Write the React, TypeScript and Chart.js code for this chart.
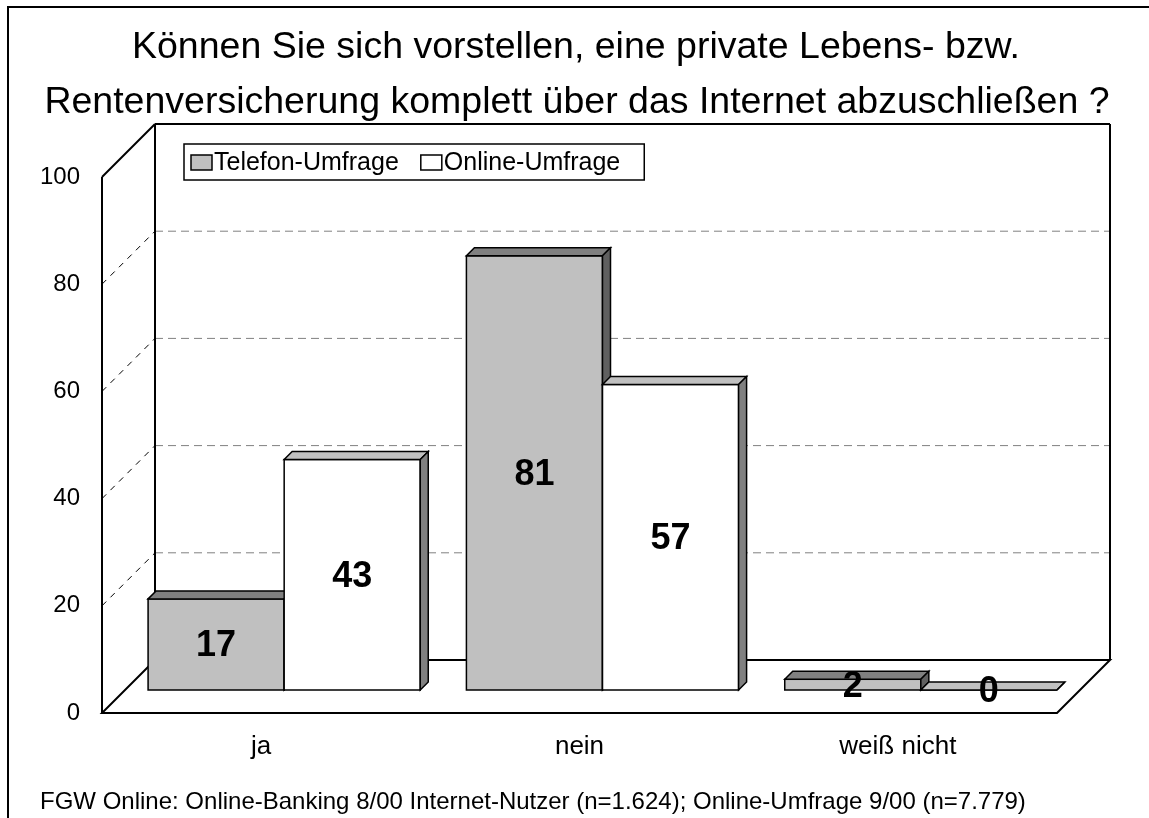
import React, { useEffect, useRef } from 'react';
import { Chart, registerables } from 'chart.js';

Chart.register(...registerables);

const categories = ['ja', 'nein', 'weiß nicht'];
const telefonValues = [17, 81, 2];
const onlineValues = [43, 57, 0];
const seriesNames = ['Telefon-Umfrage', 'Online-Umfrage'];
const yTickStep = 20;
const yMin = 0;
const yMax = 100;
const titleLines = [
  'Können Sie sich vorstellen, eine private Lebens- bzw.',
  'Rentenversicherung komplett über das Internet abzuschließen ?',
];
const footerText =
  'FGW Online: Online-Banking 8/00 Internet-Nutzer (n=1.624); Online-Umfrage 9/00 (n=7.779)';

const W = 1149;
const H = 818;
const FONT = '"Liberation Sans", Arial, Helvetica, sans-serif';
const DEPTH = 53; // depth of the 3D box
const BAR_OFF = 23; // depth position of the bar front face
const BAR_D = 8; // bar thickness in depth

const seriesStyles = [
  { front: '#c0c0c0', top: '#808080', side: '#606060' },
  { front: '#ffffff', top: '#c0c0c0', side: '#808080' },
];

function poly(ctx: CanvasRenderingContext2D, pts: number[][], fill?: string) {
  ctx.beginPath();
  ctx.moveTo(pts[0][0], pts[0][1]);
  for (let i = 1; i < pts.length; i++) ctx.lineTo(pts[i][0], pts[i][1]);
  ctx.closePath();
  if (fill) {
    ctx.fillStyle = fill;
    ctx.fill();
  }
  ctx.stroke();
}

function line(ctx: CanvasRenderingContext2D, x1: number, y1: number, x2: number, y2: number) {
  ctx.beginPath();
  ctx.moveTo(x1, y1);
  ctx.lineTo(x2, y2);
  ctx.stroke();
}

const threeDPlugin = {
  id: 'threeD',
  beforeDatasetsDraw(chart: any) {
    const { ctx, chartArea: a, scales } = chart;
    const y = scales.y;
    const L = a.left;
    const R = a.right;
    const B = y.getPixelForValue(yMin);
    const T = y.getPixelForValue(yMax);
    const D = DEPTH;
    ctx.save();
    ctx.lineWidth = 1;
    for (let v = yMin + yTickStep; v < yMax; v += yTickStep) {
      const py = y.getPixelForValue(v);
      ctx.setLineDash([8, 5]);
      ctx.strokeStyle = '#808080';
      line(ctx, L + D, py - D, R + D, py - D);
      ctx.setLineDash([6, 6]);
      ctx.strokeStyle = '#000';
      line(ctx, L, py, L + D, py - D);
    }
    ctx.setLineDash([]);
    ctx.lineWidth = 2;
    ctx.strokeStyle = '#000';
    ctx.lineJoin = 'miter';
    poly(ctx, [
      [L, B],
      [R, B],
      [R + D, B - D],
      [L + D, B - D],
    ]);
    line(ctx, L, B, L, T);
    line(ctx, L, T, L + D, T - D);
    line(ctx, L + D, T - D, L + D, B - D);
    line(ctx, L + D, T - D, R + D, T - D);
    line(ctx, R + D, T - D, R + D, B - D);
    ctx.restore();
  },
  beforeDatasetDraw(chart: any) {
    chart.ctx.save();
    chart.ctx.translate(BAR_OFF, -BAR_OFF);
  },
  afterDatasetDraw(chart: any) {
    chart.ctx.restore();
  },
  afterDatasetsDraw(chart: any) {
    const ctx: CanvasRenderingContext2D = chart.ctx;
    const d = BAR_D;
    ctx.save();
    ctx.translate(BAR_OFF, -BAR_OFF);
    ctx.lineWidth = 1.5;
    ctx.strokeStyle = '#000';
    ctx.lineJoin = 'miter';
    chart.data.datasets.forEach((ds: any, i: number) => {
      const meta = chart.getDatasetMeta(i);
      const st = seriesStyles[i];
      meta.data.forEach((el: any) => {
        const { x, y, base, width } = el.getProps(['x', 'y', 'base', 'width'], true);
        const l = x - width / 2;
        const r = x + width / 2;
        ctx.fillStyle = st.front;
        ctx.fillRect(l, y, r - l, base - y);
        ctx.strokeRect(l, y, r - l, base - y);
        poly(ctx, [
          [l, y],
          [l + d, y - d],
          [r + d, y - d],
          [r, y],
        ], st.top);
        poly(ctx, [
          [r, y],
          [r + d, y - d],
          [r + d, base - d],
          [r, base],
        ], st.side);
      });
    });
    ctx.fillStyle = '#000';
    ctx.font = 'bold 36px ' + FONT;
    ctx.textAlign = 'center';
    ctx.textBaseline = 'middle';
    chart.data.datasets.forEach((ds: any, i: number) => {
      const meta = chart.getDatasetMeta(i);
      meta.data.forEach((el: any, j: number) => {
        const { x, y, base } = el.getProps(['x', 'y', 'base'], true);
        ctx.fillText(String(ds.data[j]), x, (y + base) / 2 + 2);
      });
    });
    ctx.restore();
  },
  afterDraw(chart: any) {
    const ctx: CanvasRenderingContext2D = chart.ctx;
    ctx.save();
    // outer frame
    ctx.strokeStyle = '#000';
    ctx.lineWidth = 2;
    ctx.beginPath();
    ctx.moveTo(8, H);
    ctx.lineTo(8, 7);
    ctx.lineTo(W, 7);
    ctx.stroke();
    // title
    ctx.fillStyle = '#000';
    ctx.font = '37.5px ' + FONT;
    ctx.textAlign = 'center';
    ctx.textBaseline = 'alphabetic';
    ctx.fillText(titleLines[0], 576, 58);
    ctx.fillText(titleLines[1], 577, 113);
    // footer
    ctx.font = '24px ' + FONT;
    ctx.textAlign = 'left';
    ctx.fillText(footerText, 40, 809);
    // legend
    const lx = 184;
    const ly = 144;
    const lh = 36;
    ctx.font = '25px ' + FONT;
    ctx.textBaseline = 'middle';
    let cx = lx + 7;
    const items = chart.data.datasets.map((ds: any, i: number) => ({
      label: ds.label,
      color: seriesStyles[i].front,
    }));
    ctx.lineWidth = 1.5;
    items.forEach((it: any, i: number) => {
      ctx.fillStyle = it.color;
      ctx.fillRect(cx, ly + 11, 21, 15);
      ctx.strokeRect(cx, ly + 11, 21, 15);
      ctx.fillStyle = '#000';
      ctx.fillText(it.label, cx + 23, ly + lh / 2 + 1);
      const tw = ctx.measureText(it.label).width;
      cx += 23 + tw + (i < items.length - 1 ? 22 : 24);
    });
    ctx.strokeRect(lx, ly, cx - lx, lh);
    ctx.restore();
  },
};

export default function App() {
  const ref = useRef<HTMLCanvasElement | null>(null);
  useEffect(() => {
    if (!ref.current) return;
    const chart = new Chart(ref.current, {
      type: 'bar',
      data: {
        labels: categories,
        datasets: [
          {
            label: seriesNames[0],
            data: telefonValues,
            backgroundColor: seriesStyles[0].front,
            borderColor: '#000',
            borderWidth: 1,
            categoryPercentage: 0.855,
            barPercentage: 1,
          },
          {
            label: seriesNames[1],
            data: onlineValues,
            backgroundColor: seriesStyles[1].front,
            borderColor: '#000',
            borderWidth: 1,
            categoryPercentage: 0.855,
            barPercentage: 1,
          },
        ],
      },
      options: {
        responsive: false,
        animation: false,
        layout: { padding: { left: 8, right: 92, top: 177, bottom: 45 } },
        plugins: {
          legend: { display: false },
          tooltip: { enabled: false },
          title: { display: false },
        },
        scales: {
          x: {
            grid: { display: false },
            border: { display: false },
            ticks: { color: '#000', font: { family: FONT, size: 26 }, padding: 10 },
            afterFit: (s: any) => {
              s.height = 60;
            },
          },
          y: {
            min: yMin,
            max: yMax,
            grid: { display: false },
            border: { display: false },
            ticks: { stepSize: yTickStep, color: '#000', font: { family: FONT, size: 24 }, padding: 14 },
            afterFit: (s: any) => {
              s.width = 94;
            },
          },
        },
      },
      plugins: [threeDPlugin],
    });
    return () => chart.destroy();
  }, []);
  return (
    <div style={{ position: 'absolute', left: 0, top: 0, width: W, height: H, background: '#fff' }}>
      <canvas ref={ref} width={W} height={H} style={{ width: W, height: H, display: 'block' }} />
    </div>
  );
}
